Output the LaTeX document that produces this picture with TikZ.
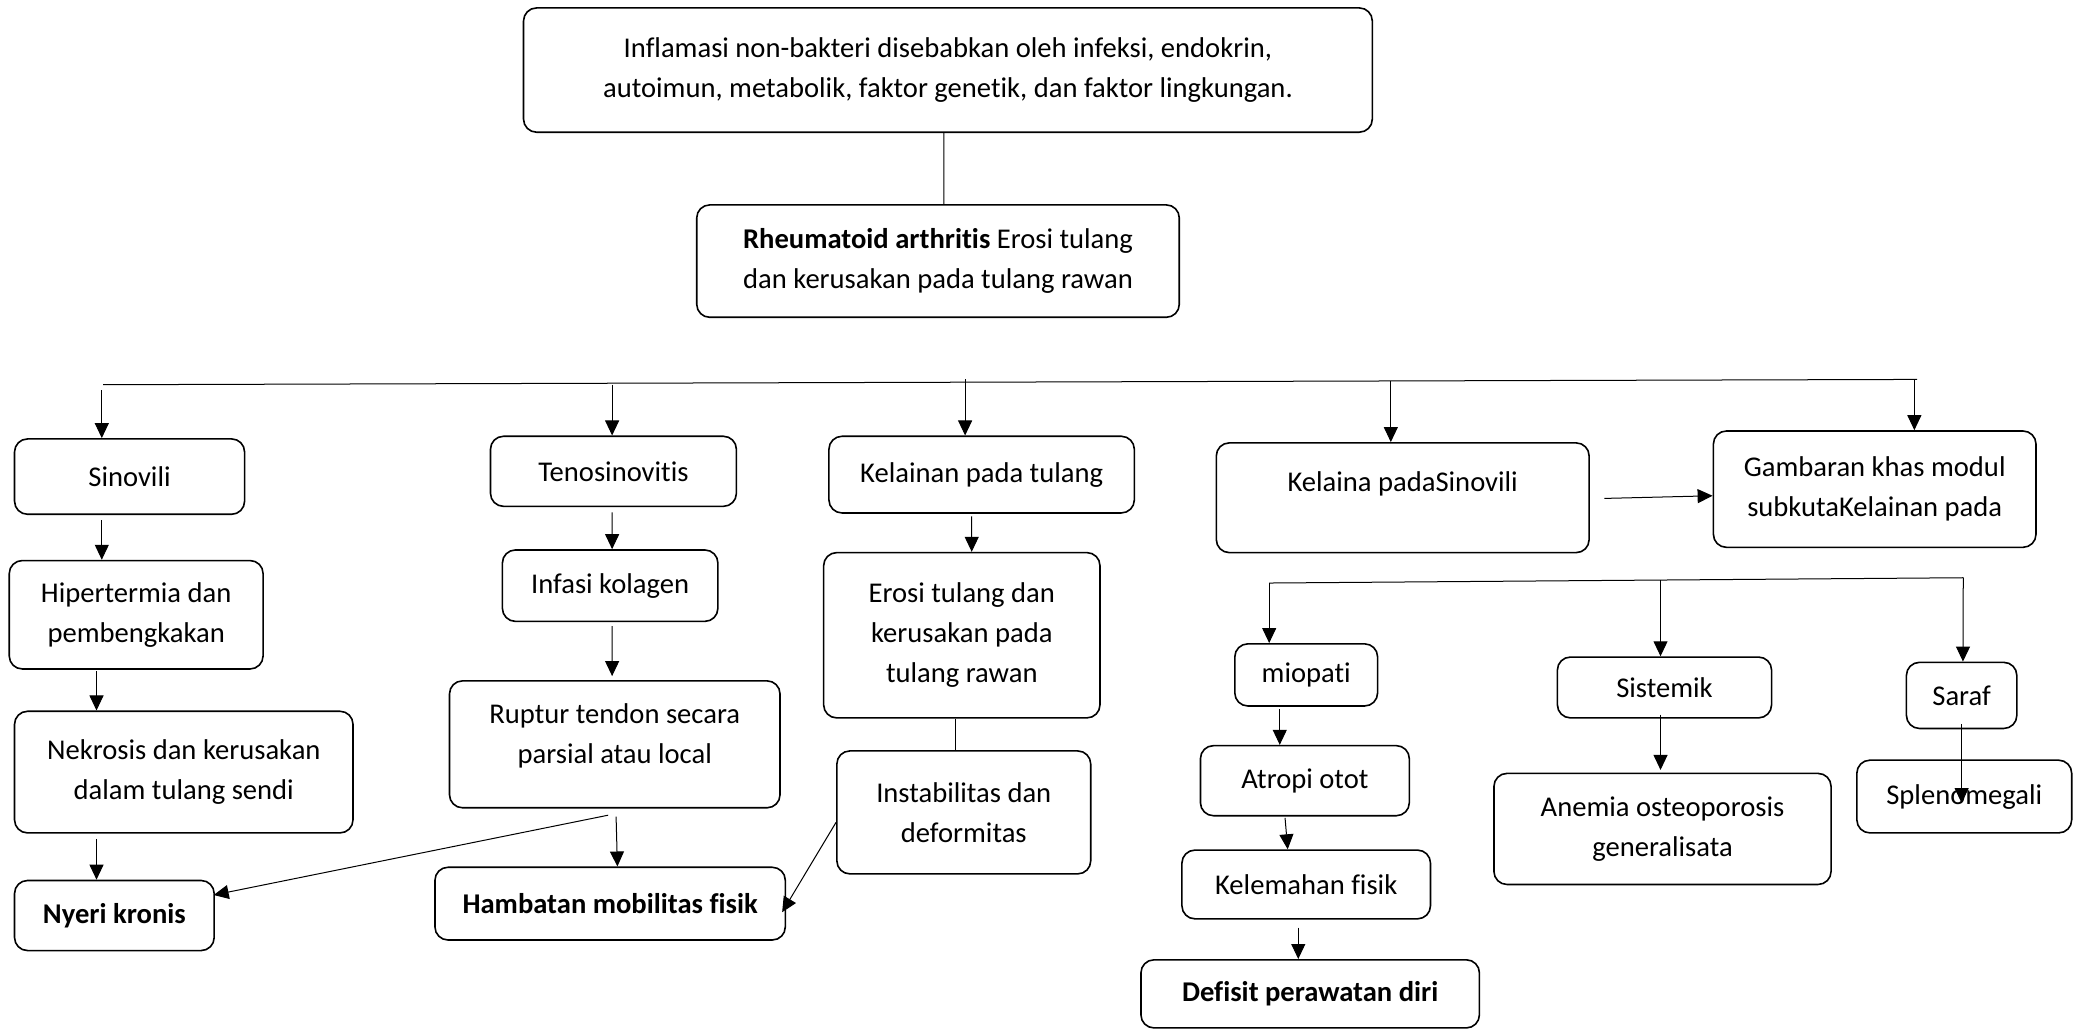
\documentclass[tikz,border=0pt]{standalone}
\usepackage{fontspec}
\setmainfont{Carlito}[Ligatures={NoCommon,NoContextual}]
\usetikzlibrary{arrows.meta,calc}
\tikzset{
  box/.style={draw, line width=0.8pt, rounded corners=6.5pt, align=center, inner sep=0pt,
    font=\fontsize{14.3}{20}\selectfont},
  arr/.style={-{Triangle[length=7.5pt,width=7pt]}, line width=0.5pt},
  ln/.style={line width=0.5pt}
}
% \bx{name}{x1}{y1}{x2}{y2}{text}
\newcommand\bx[6]{\node[box, minimum width={(#4-#2)*0.661pt}, minimum height={(#5-#3)*0.661pt}]
  (#1) at ({(#2+#4)/2},{(#3+#5)/2}) {#6};}
\begin{document}
\begin{tikzpicture}[x=0.661pt, y=-0.661pt]
\useasboundingbox (0,0) rectangle (1568,778);

\bx{top}{396}{6}{1038}{100}{Inflamasi non-bakteri disebabkan oleh infeksi, endokrin,\\ autoimun, metabolik, faktor genetik, dan faktor lingkungan.}
\bx{ra}{527}{155}{892}{240}{\textbf{Rheumatoid arthritis} Erosi tulang\\ dan kerusakan pada tulang rawan}

\bx{sin}{11}{332}{185}{389}{Sinovili}
\bx{hip}{7}{424}{199}{506}{Hipertermia dan\\ pembengkakan}
\bx{nek}{11}{538}{267}{630}{Nekrosis dan kerusakan\\ dalam tulang sendi}
\bx{nye}{11}{666}{162}{719}{\textbf{Nyeri kronis}}

\bx{ten}{371}{330}{557}{383}{Tenosinovitis}
\bx{inf}{380}{416}{543}{470}{Infasi kolagen}
\bx{rup}{340}{515}{590}{611}{Ruptur tendon secara\\ parsial atau local\\[-15pt]\strut}
\bx{ham}{329}{656}{594}{711}{\textbf{Hambatan mobilitas fisik}}

\bx{kel}{627}{330}{858}{388}{Kelainan pada tulang}
\bx{ero}{623}{418}{832}{543}{Erosi tulang dan\\ kerusakan pada\\ tulang rawan}
\bx{ins}{633}{568}{825}{661}{Instabilitas dan\\ deformitas}

\bx{kps}{920}{335}{1202}{418}{Kelaina padaSinovili\\[-10pt] \strut}
\bx{gam}{1296}{326}{1540}{414}{Gambaran khas modul\\ subkutaKelainan pada}

\bx{mio}{934}{487}{1042}{534}{miopati}
\bx{atr}{908}{564}{1066}{617}{Atropi otot}
\bx{klm}{894}{643}{1082}{695}{Kelemahan fisik}
\bx{def}{863}{726}{1119}{777.5}{\textbf{Defisit perawatan diri}}

\bx{sis}{1178}{497}{1340}{543}{Sistemik}
\bx{ane}{1130}{585}{1385}{669}{Anemia osteoporosis\\ generalisata}
\bx{sar}{1442}{501}{1525.5}{551}{Saraf}
\bx{spl}{1404.5}{575}{1567}{630}{Splenomegali}

% top connector
\draw[ln] ($(top.south)+(-3,0)$) -- ($(ra.north)+(4.5,0)$);

% main bar
\coordinate (bL) at (78,291);
\coordinate (bR) at (1450,287);
\draw[ln] (bL) -- (bR);
\coordinate (b1) at (77,295);
\coordinate (b2) at (463,291);
\coordinate (b3) at (730,287);
\coordinate (b4) at (1052,288);
\coordinate (b5) at (1448,287);
\draw[arr] (b1) -- ($(sin.north)+(-21,0)$);
\draw[arr] (b2) -- ($(ten.north)+(-1,0)$);
\draw[arr] (b3) -- ($(kel.north)+(-12.5,0)$);
\draw[arr] (b4) -- ($(kps.north)+(-9,0)$);
\draw[arr] (b5) -- ($(gam.north)+(30,0)$);

% column 1
\draw[arr] ($(sin.south)+(-21,4)$) -- ($(hip.north)+(-26,0)$);
\draw[arr] ($(hip.south)+(-30,1)$) -- ($(nek.north)+(-66,0)$);
\draw[arr] ($(nek.south)+(-66,4)$) -- ($(nye.north)+(-13.5,0)$);

% column 2
\draw[arr] ($(ten.south)+(-1,4)$) -- ($(inf.north)+(1.5,0)$);
\draw[arr] ($(inf.south)+(1.5,3)$) -- ($(rup.north)+(-2,-3)$);
\draw[arr] ($(rup.south)+(1,6)$) -- ($(ham.north)+(5.5,0)$);
\draw[arr] ($(rup.south)+(-5,5)$) -- ($(nye.east)+(-1,-15.5)$);

% column 3
\draw[arr] ($(kel.south)+(-7.5,2)$) -- ($(ero.north)+(7.5,0)$);
\draw[ln] ($(ero.south)+(-4.5,0)$) -- ($(ins.north)+(-6,0)$);
\draw[arr] ($(ins.west)+(0,7.5)$) -- ($(ham.east)+(-3,6.5)$);

% column 4
\draw[arr] ($(kps.east)+(11,0.5)$) -- ($(gam.west)+(0,5)$);
\coordinate (c1) at (960,441);
\coordinate (c2) at (1256,439);
\coordinate (c3) at (1485,437);
\draw[ln] (c1) -- (c3);
\draw[arr] (c1) -- ($(mio.north)+(-28,0)$);
\draw[arr] (c2) -- ($(sis.north)+(-3,0)$);
\draw[arr] (c3) -- ($(sar.north)+(1,0)$);
\draw[arr] ($(mio.south)+(-20,2)$) -- ($(atr.north)+(-19,0)$);
\draw[arr] ($(atr.south)+(-15,1)$) -- ($(klm.north)+(-14,0)$);
\draw[arr] ($(klm.south)+(-6,6)$) -- ($(def.north)+(-9,0)$);
\draw[arr] ($(sis.south)+(-3,-3)$) -- ($(ane.north)+(-1.5,-2)$);
\draw[arr] ($(sar.south)+(0,-4)$) -- ($(spl.center)+(-2,5)$);
\end{tikzpicture}
\end{document}
